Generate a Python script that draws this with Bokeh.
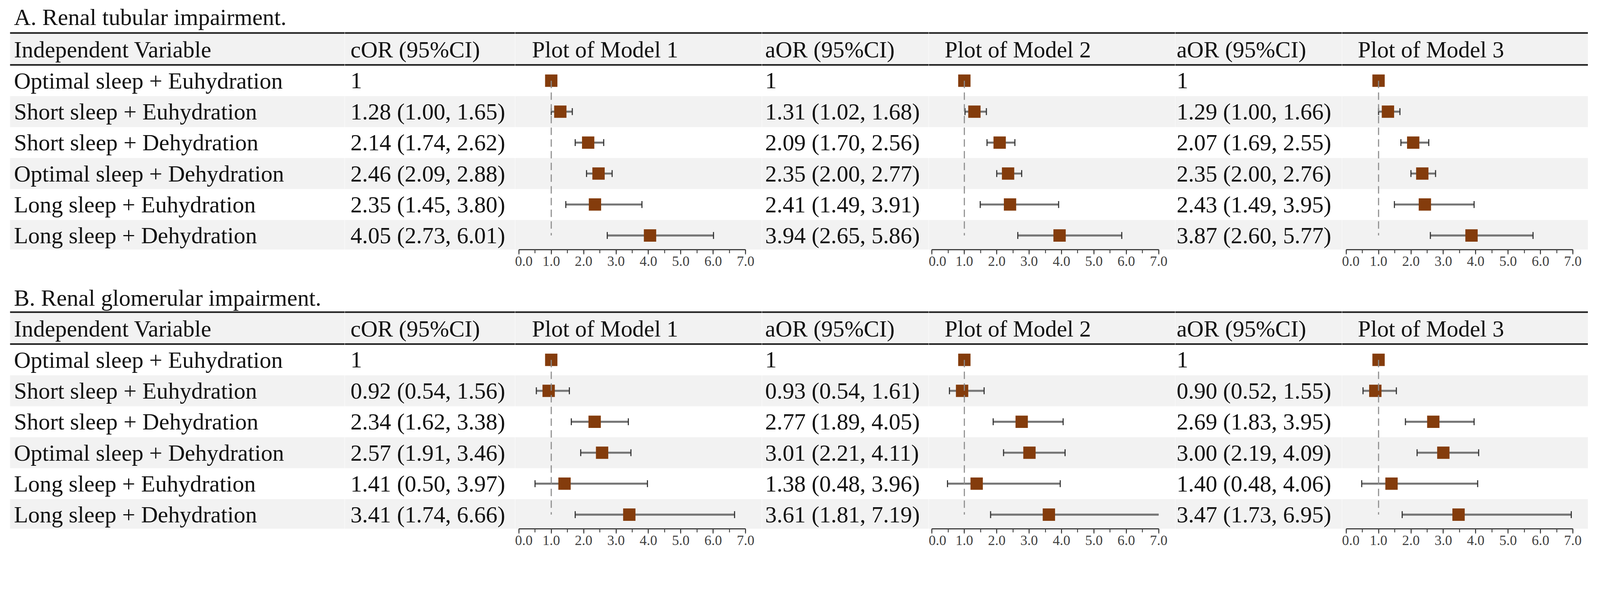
import math
from bokeh.plotting import figure
from bokeh.layouts import column, row
from bokeh.models import Range1d, Label, Span, FixedTicker, PrintfTickFormatter, ColumnDataSource
from bokeh.embed import file_html
from bokeh.resources import INLINE
from bokeh.core.properties import value

NaN = float("nan")

# ---------------- data ----------------
row_labels = [
    "Optimal sleep + Euhydration",
    "Short sleep + Euhydration",
    "Short sleep + Dehydration",
    "Optimal sleep + Dehydration",
    "Long sleep + Euhydration",
    "Long sleep + Dehydration",
]
section_titles = ["A. Renal tubular impairment.", "B. Renal glomerular impairment."]
col_headers = ["Independent Variable", "cOR (95%CI)", "Plot of Model 1",
               "aOR (95%CI)", "Plot of Model 2", "aOR (95%CI)", "Plot of Model 3"]
tick_values = [0, 1, 2, 3, 4, 5, 6, 7]
minor_tick_values = [0, 0.5, 1, 1.5, 2, 2.5, 3, 3.5, 4, 4.5, 5, 5.5, 6, 6.5, 7]
ref_value = 1.0
axis_max = 7.0

# Section A: renal tubular impairment
a_m1_or = [1.00, 1.28, 2.14, 2.46, 2.35, 4.05]
a_m1_lo = [NaN, 1.00, 1.74, 2.09, 1.45, 2.73]
a_m1_hi = [NaN, 1.65, 2.62, 2.88, 3.80, 6.01]
a_m2_or = [1.00, 1.31, 2.09, 2.35, 2.41, 3.94]
a_m2_lo = [NaN, 1.02, 1.70, 2.00, 1.49, 2.65]
a_m2_hi = [NaN, 1.68, 2.56, 2.77, 3.91, 5.86]
a_m3_or = [1.00, 1.29, 2.07, 2.35, 2.43, 3.87]
a_m3_lo = [NaN, 1.00, 1.69, 2.00, 1.49, 2.60]
a_m3_hi = [NaN, 1.66, 2.55, 2.76, 3.95, 5.77]

# Section B: renal glomerular impairment
b_m1_or = [1.00, 0.92, 2.34, 2.57, 1.41, 3.41]
b_m1_lo = [NaN, 0.54, 1.62, 1.91, 0.50, 1.74]
b_m1_hi = [NaN, 1.56, 3.38, 3.46, 3.97, 6.66]
b_m2_or = [1.00, 0.93, 2.77, 3.01, 1.38, 3.61]
b_m2_lo = [NaN, 0.54, 1.89, 2.21, 0.48, 1.81]
b_m2_hi = [NaN, 1.61, 4.05, 4.11, 3.96, 7.19]
b_m3_or = [1.00, 0.90, 2.69, 3.00, 1.40, 3.47]
b_m3_lo = [NaN, 0.52, 1.83, 2.19, 0.48, 1.73]
b_m3_hi = [NaN, 1.55, 3.95, 4.09, 4.06, 6.95]

sections = [
    (section_titles[0], [(a_m1_or, a_m1_lo, a_m1_hi), (a_m2_or, a_m2_lo, a_m2_hi), (a_m3_or, a_m3_lo, a_m3_hi)]),
    (section_titles[1], [(b_m1_or, b_m1_lo, b_m1_hi), (b_m2_or, b_m2_lo, b_m2_hi), (b_m3_or, b_m3_lo, b_m3_hi)]),
]

# ---------------- layout / style ----------------
# design numbers are picture pixels; K converts them to CSS pixels
K = 1 / 1.077


def S(v):
    return v * K


FONT = "Liberation Serif"
FS = "%.1fpx" % S(64)
TXT = "#111111"
BAND = "#f2f2f2"
LINE_DARK = "#1a1a1a"
SQ = "#843c0c"

edges_pic = [0, 950, 1420, 2100, 2560, 3240, 3700, 4378]
css_edges = [round(S(x)) for x in edges_pic]
table_left_pic = 27
text_offsets = {0: 11, 1: 16, 3: 9, 5: 4}        # picture px from frame left
plot_zero = {2: 1430, 4: 2569, 6: 3711}           # picture x of value 0
plot_header_x = {2: 1466, 4: 2604, 6: 3743}       # picture x of header text
PX_PER_UNIT = 89.3

sec_height = 715
title_center_px = [47, 51]
FRAME_CSS = round(S(688))
FRAME_PIC = FRAME_CSS / K
ROW1_PX = 222
ROW_PX = 85.4


def py(px):
    return (px - ROW1_PX) / ROW_PX


rows_idx = list(range(len(row_labels)))
band_rows = [i for i in rows_idx if i % 2 == 1]


def fmt(o, l, h):
    if math.isnan(l):
        return "%g" % o
    return "%.2f (%.2f, %.2f)" % (o, l, h)


def make_fig(width, height, xr, with_axis, min_left=0):
    yr = Range1d(py(FRAME_PIC), py(0))
    p = figure(width=width, height=height, x_range=xr, y_range=yr, title=None,
               output_backend="svg", toolbar_location=None, tools="",
               x_axis_location="below" if with_axis else None,
               y_axis_location=None,
               min_border_left=min_left, min_border_right=0, min_border_top=0,
               min_border_bottom=height - FRAME_CSS)
    p.outline_line_color = None
    p.background_fill_color = "white"
    p.border_fill_color = "white"
    p.grid.grid_line_color = None
    return p


def add_table_bg(p, x0, x1, header_text, header_x, header_units="data"):
    p.hbar(y=band_rows, height=1.0, left=x0, right=x1, fill_color=BAND, line_color=None)
    hb_top, hb_bot = py(93), py(176.5)
    p.hbar(y=[(hb_top + hb_bot) / 2], height=abs(hb_bot - hb_top), left=x0, right=x1,
           fill_color=BAND, line_color=None)
    p.add_layout(Span(location=py(90.5), dimension="width", line_color=LINE_DARK, line_width=S(4.5)))
    p.add_layout(Span(location=py(178.5), dimension="width", line_color=LINE_DARK, line_width=S(4.5)))
    p.add_layout(Label(x=header_x, y=py(136), x_units=header_units, text=header_text,
                       text_font=FONT, text_font_size=FS, text_color=TXT,
                       text_baseline="middle", text_align="left"))


def text_column(p, xpos, texts):
    src = ColumnDataSource(dict(x=[xpos] * len(texts), y=rows_idx, t=texts))
    p.text(x="x", y="y", text="t", source=src, text_font=value(FONT), text_font_size=FS,
           text_color=TXT, text_baseline="middle", text_align="left")


def forest(p, ors, los, his):
    valid = [i for i in rows_idx if not math.isnan(los[i])]
    seg = ColumnDataSource(dict(x0=[los[i] for i in valid],
                                x1=[min(his[i], axis_max) for i in valid],
                                y=[i for i in valid]))
    p.segment(x0="x0", y0="y", x1="x1", y1="y", source=seg, line_color="#8a8a8a", line_width=S(6))
    p.segment(x0="x0", y0="y", x1="x1", y1="y", source=seg, line_color="#666666", line_width=S(2))
    cap_x = [los[i] for i in valid] + [his[i] for i in valid if his[i] <= axis_max]
    cap_y = [i for i in valid] + [i for i in valid if his[i] <= axis_max]
    p.rect(x=cap_x, y=cap_y, width=S(3), height=S(19), width_units="screen", height_units="screen",
           fill_color="#333333", line_color=None)
    p.rect(x=ors, y=rows_idx, width=S(34), height=S(34), width_units="screen", height_units="screen",
           fill_color=SQ, line_color=None)
    p.segment(x0=[ref_value], y0=[rows_idx[0]], x1=[ref_value], y1=[rows_idx[-1]],
              line_color="#8c8c8c", line_width=S(3), line_dash="19 11")
    ax = p.xaxis[0]
    ax.ticker = FixedTicker(ticks=tick_values, minor_ticks=minor_tick_values)
    ax.formatter = PrintfTickFormatter(format="%.1f")
    ax.bounds = (0, axis_max)
    ax.axis_line_width = S(3.5)
    ax.axis_line_color = "#404040"
    ax.major_tick_line_width = S(2.5)
    ax.major_tick_line_color = "#404040"
    ax.major_tick_in = 0
    ax.major_tick_out = 12
    ax.minor_tick_line_width = S(2.5)
    ax.minor_tick_line_color = "#404040"
    ax.minor_tick_in = 0
    ax.minor_tick_out = 9
    ax.major_label_text_font = FONT
    ax.major_label_text_font_size = "36px"
    ax.major_label_text_color = "#404040"
    ax.major_label_standoff = 5


section_rows = []
for s, (title, models) in enumerate(sections):
    H = sec_height
    figs = []
    for c in range(7):
        cl, cr = css_edges[c], css_edges[c + 1]
        w = cr - cl
        left_pic = cl / K
        if c in plot_zero:
            z = plot_zero[c]
            x0 = (left_pic - z) / PX_PER_UNIT
            xr = Range1d(x0, x0 + (w / K) / PX_PER_UNIT)
            p = make_fig(w, H, xr, True)
            hx = S(plot_header_x[c]) - cl
            add_table_bg(p, xr.start, xr.end, col_headers[c], hx, "screen")
            m = (c - 2) // 2
            forest(p, *models[m])
        else:
            if c == 0:
                mbl = round(S(table_left_pic))
                xr = Range1d(0, (w - mbl) / K)
                p = make_fig(w, H, xr, False, min_left=mbl)
            else:
                xr = Range1d(0, w / K)
                p = make_fig(w, H, xr, False)
            add_table_bg(p, xr.start, xr.end, col_headers[c], text_offsets[c])
            if c == 0:
                text_column(p, text_offsets[c], row_labels)
                p.add_layout(Label(x=text_offsets[c], y=py(title_center_px[s]), text=title,
                                   text_font=FONT, text_font_size=FS, text_color=TXT,
                                   text_baseline="middle", text_align="left"))
            else:
                m = (c - 1) // 2
                o, l, h = models[m]
                text_column(p, text_offsets[c], [fmt(o[i], l[i], h[i]) for i in rows_idx])
        figs.append(p)
    section_rows.append(row(*figs, spacing=0))

layout = column(*section_rows, spacing=0)
open("out.html", "w").write(file_html(layout, INLINE))
